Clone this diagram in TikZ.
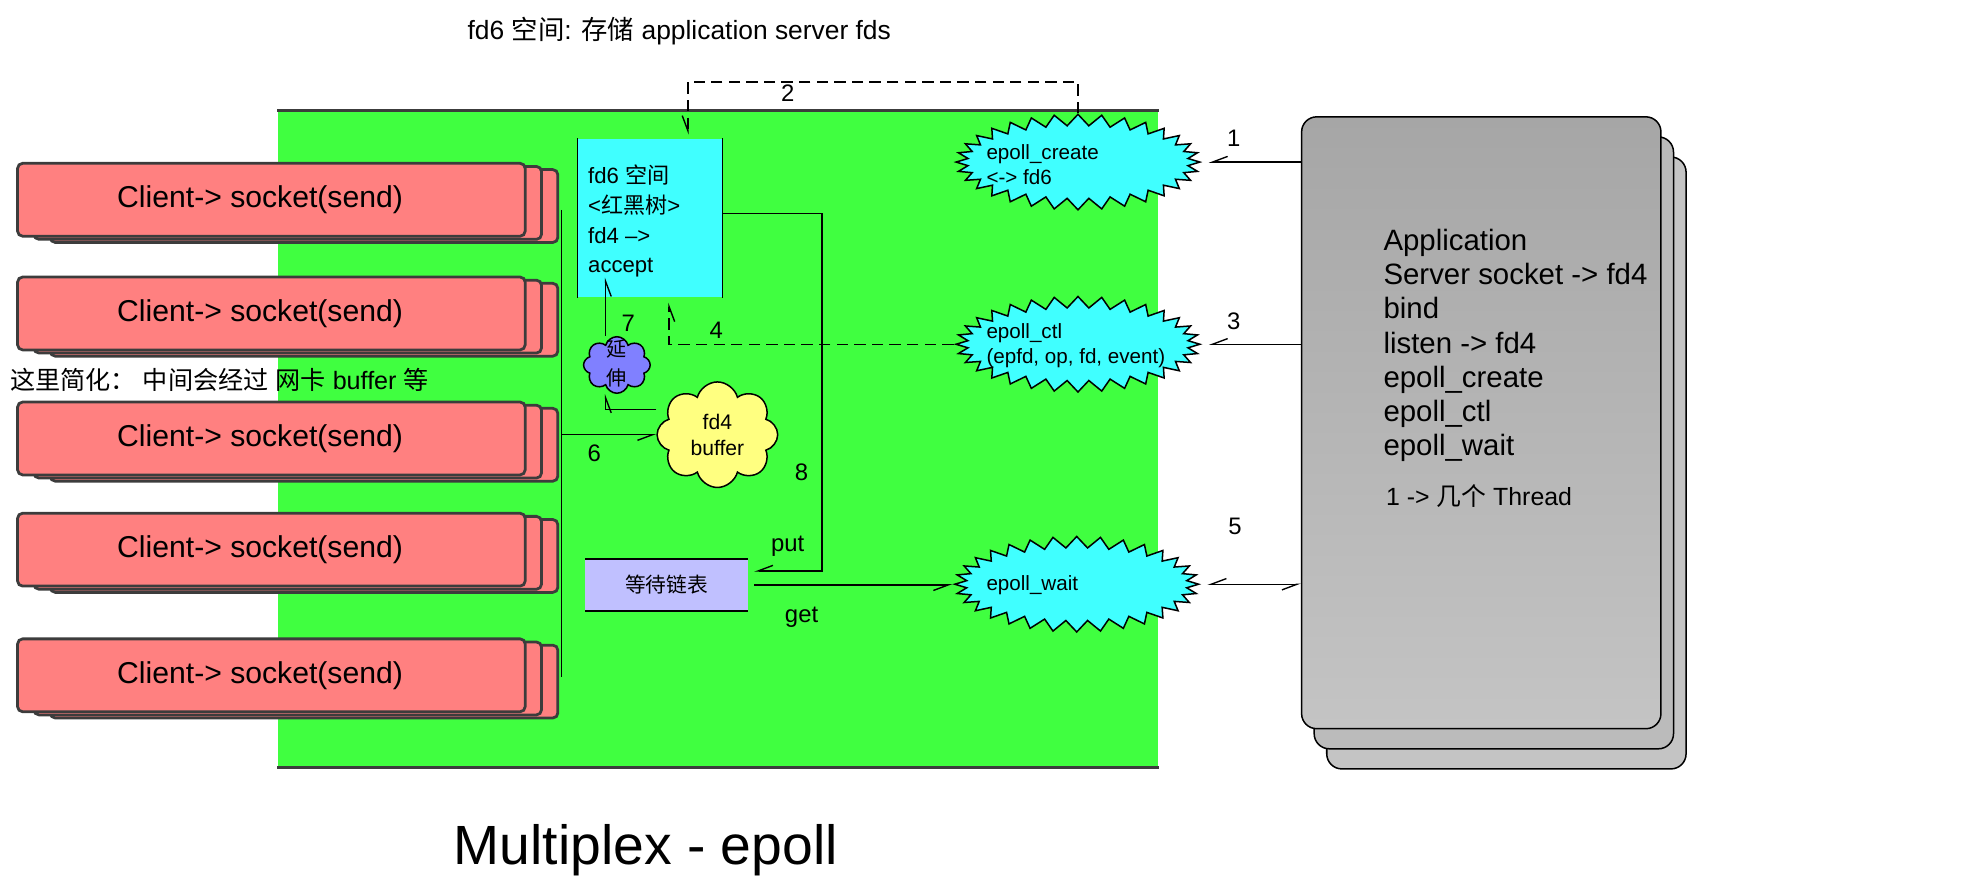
\documentclass[tikz,border=0pt]{standalone}
\usepackage{fontspec}
\setmainfont{Liberation Sans}
\newfontfamily\cjk{Noto Sans CJK SC}
\usetikzlibrary{shapes.symbols,shadows,arrows.meta,positioning}
\definecolor{bggreen}{HTML}{40FF40}
\definecolor{clientred}{HTML}{FF8080}
\definecolor{edgegray}{HTML}{3C3C3C}
\definecolor{fdcyan}{HTML}{40FFFF}
\definecolor{listblue}{HTML}{C0C0FF}
\definecolor{cloudblue}{HTML}{8080FF}
\definecolor{cloudyellow}{HTML}{FFFF80}
\definecolor{apptop}{HTML}{A6A6A6}
\definecolor{appmid}{HTML}{BBBBBB}
\definecolor{appbottom}{HTML}{C4C4C4}
\newcommand{\zh}[1]{{\cjk #1}}
\newcommand{\fsz}[2]{\fontsize{#1pt}{#2pt}\selectfont}

\begin{document}
\begin{tikzpicture}[x=1pt,y=-1pt]
    \tikzstyle{client}=[rectangle, rounded corners=4pt, minimum width=404pt, minimum height=58pt, fill=clientred, draw=edgegray, line width=2.2pt,
      copy shadow={shadow xshift=26pt, shadow yshift=-5pt, fill=clientred, draw=edgegray, line width=2.2pt},
      copy shadow={shadow xshift=13pt, shadow yshift=-2.5pt, fill=clientred, draw=edgegray, line width=2.2pt}]
    \tikzstyle{appbox}=[rectangle, rounded corners=12pt, minimum width=286pt, minimum height=487pt, draw=black, line width=1.2pt, top color=apptop, bottom color=appbottom,
      copy shadow={shadow xshift=20pt, shadow yshift=-32pt, fill=appbottom, draw=black, line width=1.2pt},
      copy shadow={shadow xshift=10pt, shadow yshift=-16pt, fill=appmid, draw=black, line width=1.2pt}]
    \tikzstyle{burst}=[starburst, starburst points=32, starburst point height=9pt, random starburst=0, fill=fdcyan, draw=black, line width=1.2pt, minimum width=194pt, minimum height=76pt, inner sep=0pt]
    \tikzstyle{bursttext}=[font=\fsz{16.4}{20}, align=left, inner sep=0pt]
    \tikzstyle{puff}=[cloud, cloud ignores aspect, draw=black, line width=1.2pt, inner sep=0pt]
    \tikzstyle{num}=[font=\fsz{19}{22}, inner sep=0pt]
    \tikzstyle{connect}=[-{Straight Barb[right,length=12pt,width=9pt]}, line width=1.1pt]
    \tikzstyle{dconnect}=[connect, dash pattern=on 9pt off 5pt]
    \tikzstyle{both}=[{Straight Barb[right,length=12pt,width=9pt]}-{Straight Barb[right,length=12pt,width=9pt]}, line width=1.1pt]
    \useasboundingbox (0,0) rectangle (1568,711);

      % kernel area
      \node[rectangle, fill=bggreen, minimum width=701pt, minimum height=522.5pt, inner sep=0pt] (kernel) at (571.5,349.75) {};
      \draw[edgegray, line width=2.4pt] (kernel.north west) -- (kernel.north east);
      \draw[edgegray, line width=2.4pt] (kernel.south west) -- (kernel.south east);

      % clients
      \foreach \i/\y in {1/159, 2/249.5, 3/349, 4/437.5, 5/537.5} {
        \node[client] (c\i) at (216,\y) {};
        \node[font=\fsz{24}{28}, inner sep=0pt] (t\i) at (207,\y) {Client-> socket(send)};
      }
      \coordinate (bustop) at (447,167);
      \coordinate (busbottom) at (447,539);
      \draw[line width=1.1pt] (bustop) -- (busbottom);
      \node[font=\fsz{20}{24}, anchor=west, inner sep=0pt] (simplify) at (8,302) {\zh{这里简化：} \zh{中间会经过} \zh{网卡} buffer \zh{等}};

      % fd6 space
      \node[fill=fdcyan, minimum width=115pt, minimum height=126.5pt, inner sep=0pt] (fdsix) at (517.5,173.5) {};
      \draw[line width=1.2pt] (fdsix.north west) -- (fdsix.south west);
      \draw[line width=1.2pt] (fdsix.north east) -- (fdsix.south east);
      \node[font=\fsz{17.6}{23.6}, align=left, anchor=west, inner sep=0pt] (fdsixtext) at (468,176) {fd6 \zh{空间}\\<\zh{红黑树}>\\fd4 –>\\accept};

      % wait list
      \node[fill=listblue, minimum width=129pt, minimum height=41pt, inner sep=0pt, font=\fsz{16.5}{20}] (list) at (530.5,465.5) {\zh{等待链表}};
      \draw[line width=1.2pt] (list.north west) -- (list.north east);
      \draw[line width=1.2pt] (list.south west) -- (list.south east);

      % clouds
      \node[puff, fill=cloudblue, cloud puffs=8, minimum width=53pt, minimum height=45pt] (yanshen) at (491,290.5) {};
      \node[font=\fsz{16}{23}, align=center, inner sep=0pt] (yanshentext) at (491,289.5) {\zh{延}\\\zh{伸}};
      \node[puff, fill=cloudyellow, cloud puffs=8, minimum width=96pt, minimum height=84pt, font=\fsz{16.8}{21}, align=center] (buf) at (571,346) {fd4\\buffer};

      % epoll calls
      \node[burst] (create) at (858,129) {};
      \node[bursttext, anchor=west] (createtext) at (785,131) {epoll\_create\\<-> fd6};
      \node[burst] (ctl) at (858,274) {};
      \node[bursttext, anchor=west] (ctltext) at (785,275) {epoll\_ctl\\(epfd, op, fd, event)};
      \node[burst] (wait) at (857,465) {};
      \node[bursttext, anchor=west] (waittext) at (785,466) {epoll\_wait};

      % application
      \node[appbox] (app) at (1179,336.5) {};
      \node[font=\fsz{23.4}{27.2}, align=left, anchor=west, inner sep=0pt] (apptext) at (1101,275) {Application\\Server socket -> fd4\\bind\\listen -> fd4\\epoll\_create\\epoll\_ctl\\epoll\_wait};
      \node[font=\fsz{19.8}{22}, anchor=west, inner sep=0pt] (thread) at (1103,395) {1 -> \zh{几个} Thread};

      % connectors
      \draw[connect] (app.west |- create.east) -- ([xshift=5pt]create.east);
      \draw[connect] (app.west |- ctl.east) -- ([xshift=5pt]ctl.east);
      \draw[both] (app.west |- wait.east) -- ([xshift=5pt]wait.east);
      \draw[dconnect] (create.north) -- ++(0,-25) -| ([xshift=30pt,yshift=3pt]fdsix.north);
      \draw[dconnect] (ctl.west) -| ([xshift=15pt,yshift=-4pt]fdsix.south);
      \draw[connect] (bustop |- buf.west) -- (buf.west);
      \draw[connect] ([yshift=20pt]buf.west) -| ([xshift=-9pt]yanshen.south);
      \draw[connect] ([xshift=-9pt]yanshen.north) -- ([xshift=-35.5pt,yshift=16pt]fdsix.south);
      \draw[connect] ([yshift=3.5pt]fdsix.east) -- ++(79,0) |- ([xshift=5pt,yshift=11pt]list.east);
      \draw[connect] ([xshift=5pt]list.east) -- (wait.west |- list.east);

      % labels
      \node[num] (l1) at (982,110) {1};
      \node[num] (l2) at (627,74) {2};
      \node[num] (l3) at (982,256) {3};
      \node[num] (l4) at (570,263) {4};
      \node[num] (l5) at (983,419) {5};
      \node[num] (l6) at (473,361) {6};
      \node[num] (l7) at (500,257) {7};
      \node[num] (l8) at (638,376) {8};
      \node[num] (lput) at (627,435) {put};
      \node[num] (lget) at (638,491) {get};
      \node[font=\fsz{21}{24}, anchor=west, inner sep=0pt] (note) at (372,25) {fd6 \zh{空间}: \zh{存储} application server fds};
      \node[font=\fsz{44}{50}, inner sep=0pt] (title) at (514,677) {Multiplex - epoll};
\end{tikzpicture}
\end{document}
